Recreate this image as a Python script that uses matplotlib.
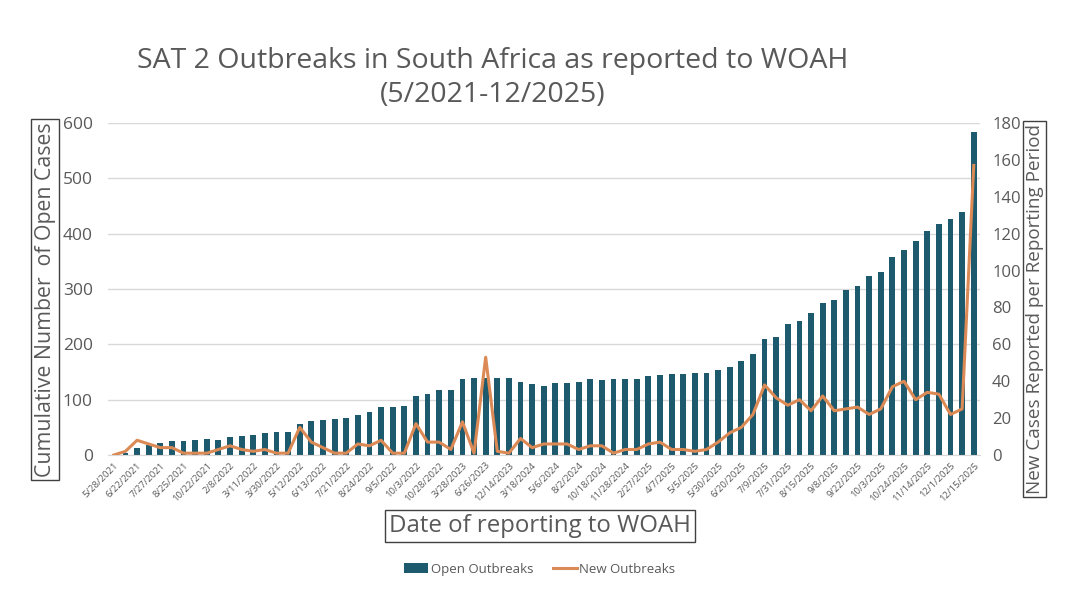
import matplotlib
matplotlib.use("Agg")
import matplotlib.pyplot as plt
import numpy as np

plt.rcParams["font.family"] = ["Open Sans", "DejaVu Sans"]

# 報告ごとのラベル (2 本おきに表示)
tick_labels = [
    "5/28/2021", "6/22/2021", "7/27/2021", "8/25/2021", "10/22/2021",
    "2/8/2022", "3/11/2022", "3/30/2022", "5/12/2022", "6/13/2022",
    "7/21/2022", "8/24/2022", "9/5/2022", "10/3/2022", "10/28/2022",
    "3/28/2023", "6/26/2023", "12/14/2023", "3/18/2024", "5/6/2024",
    "8/2/2024", "10/18/2024", "11/28/2024", "2/27/2025", "4/7/2025",
    "5/5/2025", "5/30/2025", "6/20/2025", "7/9/2025", "7/31/2025",
    "8/15/2025", "9/8/2025", "9/22/2025", "10/3/2025", "10/24/2025",
    "11/14/2025", "12/1/2025", "12/15/2025",
]

# 累積の未解決件数 (左軸)
open_outbreaks = [
    0, 3, 12, 18, 21, 26, 26, 27, 29, 27,
    32, 35, 37, 39, 41, 41, 56, 61, 64, 66,
    67, 73, 78, 87, 87, 88, 106, 111, 118, 118,
    138, 140, 140, 140, 140, 132, 129, 124, 131, 131,
    132, 137, 135, 137, 138, 137, 143, 144, 146, 147,
    149, 149, 153, 159, 170, 182, 209, 213, 236, 242,
    257, 275, 280, 299, 306, 323, 331, 358, 371, 387,
    405, 417, 426, 440, 583,
]

# 報告期間ごとの新規件数 (右軸)
new_outbreaks = [
    0, 2, 8, 6, 4, 4, 1, 1, 1, 3,
    5, 3, 2, 3, 1, 1, 15, 7, 4, 1,
    1, 6, 5, 8, 1, 1, 17, 7, 7, 3,
    18, 1, 53, 2, 1, 9, 4, 6, 6, 6,
    3, 5, 5, 1, 3, 3, 6, 7, 3, 3,
    2, 3, 7, 12, 15, 22, 38, 31, 27, 30,
    24, 32, 24, 25, 26, 22, 25, 37, 40, 30,
    34, 33, 22, 25, 157,
]

BAR = "#1d5a6e"
LINE = "#dc8a55"
TXT = "#595959"

x = np.arange(len(open_outbreaks))

fig = plt.figure(figsize=(10.8, 6.08), dpi=100)
ax = fig.add_axes([0.1, 0.2516, 0.807, 0.5461])
ax2 = ax.twinx()

ax.bar(x, open_outbreaks, width=0.5, color=BAR, zorder=2, label="Open Outbreaks")
ax2.plot(x, new_outbreaks, color=LINE, lw=2.2, zorder=3, label="New Outbreaks",
         solid_joinstyle="round")

ax.set_xlim(-0.5, len(x) - 0.5)
ax.set_ylim(0, 600)
ax.set_yticks(range(0, 601, 100))
ax2.set_ylim(0, 180)
ax2.set_yticks(range(0, 181, 20))

ax.set_xticks(x[::2])
ax.set_xticklabels(tick_labels, rotation=45, ha="right", rotation_mode="anchor",
                   fontsize=6.8, color=TXT)
ax.tick_params(axis="x", length=0, pad=4)
ax.tick_params(axis="y", length=0, labelsize=12.5, labelcolor=TXT, pad=11)
ax2.tick_params(axis="y", length=0, labelsize=12, labelcolor=TXT, pad=9)

ax.grid(axis="y", color="#d9d9d9", lw=1, zorder=0)
ax.set_axisbelow(True)
for a in (ax, ax2):
    for s in a.spines.values():
        s.set_visible(False)
ax.spines["bottom"].set_visible(True)
ax.spines["bottom"].set_color("#d9d9d9")

box = dict(boxstyle="square,pad=0.15", fc="white", ec="#404040", lw=1)

fig.text(0.456, 0.872, "SAT 2 Outbreaks in South Africa as reported to WOAH\n(5/2021-12/2025)",
         ha="center", va="center", fontsize=20.5, color=TXT, linespacing=1.3)
fig.text(0.0417, 0.507, "Cumulative Number  of Open Cases", rotation=90,
         ha="center", va="center", fontsize=15.3, color=TXT, bbox=box)
fig.text(0.958, 0.492, "New Cases Reported per Reporting Period", rotation=90,
         ha="center", va="center", fontsize=13.6, color=TXT, bbox=box)
fig.text(0.5, 0.135, "Date of reporting to WOAH",
         ha="center", va="center", fontsize=17.3, color=TXT, bbox=box)

h1, l1 = ax.get_legend_handles_labels()
h2, l2 = ax2.get_legend_handles_labels()
fig.legend(h1 + h2, l1 + l2, loc="center", bbox_to_anchor=(0.5, 0.064), ncol=2,
           frameon=False, fontsize=9.5, labelcolor=TXT, handlelength=1.8,
           handletextpad=0.2, columnspacing=1.5)

fig.savefig("out.png", dpi=100, facecolor="white")
